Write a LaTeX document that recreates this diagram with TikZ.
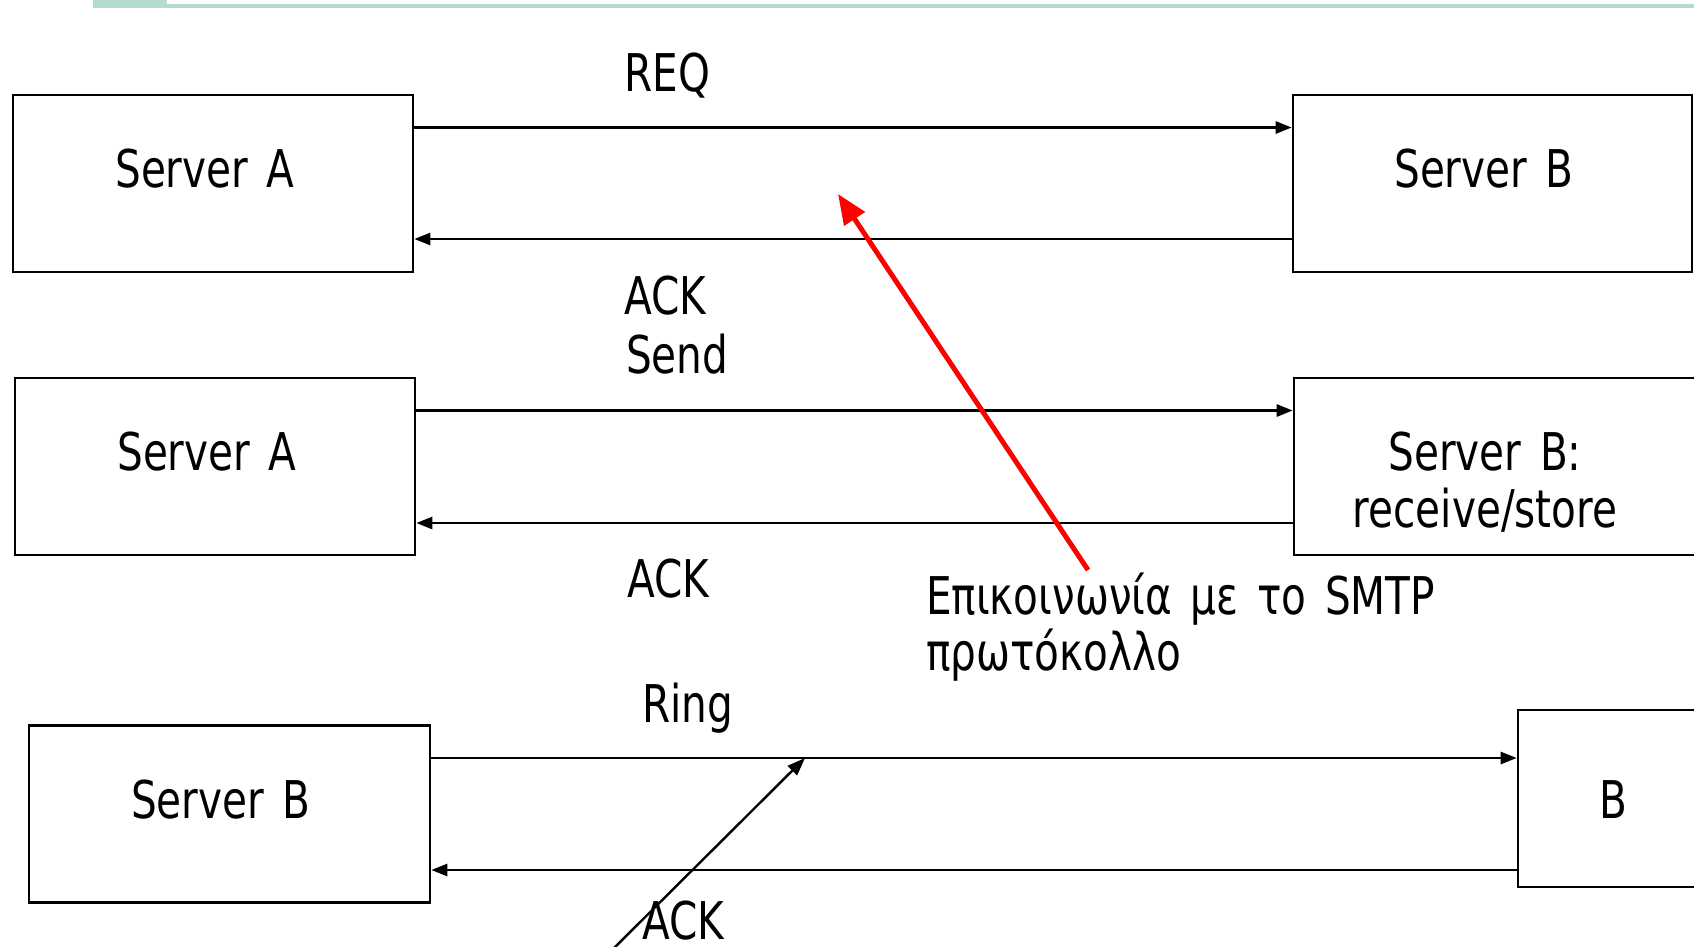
\documentclass[tikz,border=0pt]{standalone}
\usepackage{fontspec}
\setmainfont{DejaVu Sans}[FakeStretch=0.78,WordSpace=1.45]
\usetikzlibrary{arrows.meta}
\definecolor{barteal}{HTML}{B3DBCF}
\tikzset{
  box/.style={draw=black, line width=2.6pt, rectangle, inner sep=0pt},
  lbl/.style={inner sep=0pt, font=\fontsize{52}{57}\selectfont},
  msg/.style={line width=2.6pt, -{Triangle[length=16pt,width=12pt]}},
  pointer/.style={line width=5pt, red, -{Triangle[length=30pt,width=24pt]}},
  thinptr/.style={line width=2.4pt, -{Triangle[length=18pt,width=13pt]}}
}
\begin{document}
\begin{tikzpicture}[x=1pt,y=-1pt]
\useasboundingbox (0,0) rectangle (1694,946);
\clip (0,0) rectangle (1694,946);
% top bar
\fill[barteal] (93,4) rectangle (1700,8);
\fill[barteal] (93,0) rectangle (167,8);
% boxes
\node[box, minimum width=400pt, minimum height=177pt] (a1) at (213,183.5) {};
\node[box, minimum width=399pt, minimum height=177pt] (b1) at (1492.5,183.5) {};
\node[box, minimum width=400pt, minimum height=177pt] (a2) at (215,466.5) {};
\node[box, minimum width=420pt, minimum height=177pt] (b2) at (1504,466.5) {};
\node[box, minimum width=401pt, minimum height=177pt] (s3) at (229.5,814) {};
\node[box, minimum width=200pt, minimum height=177pt] (b3) at (1618,798.5) {};
% box texts
\node[lbl, anchor=base] (ta1) at (205,187) {Server A};
\node[lbl, anchor=base] (tb1) at (1484,187) {Server B};
\node[lbl, anchor=base] (ta2) at (207,470) {Server A};
\node[lbl, anchor=base] (tb2) at (1485,470) {Server B:};
\node[lbl, anchor=base] (tb2b) at (1485,527) {receive/store};
\node[lbl, anchor=base] (ts3) at (221,818) {Server B};
\node[lbl, anchor=base] (tb3) at (1613,818) {B};
% message labels
\node[lbl, anchor=base west] (req) at (624,91) {REQ};
\node[lbl, anchor=base west] (ack1) at (624,314) {ACK};
\node[lbl, anchor=base west] (send) at (626,373) {Send};
\node[lbl, anchor=base west] (ack2) at (627,597) {ACK};
\node[lbl, anchor=base west] (ring) at (642,722) {Ring};
\node[lbl, anchor=base west] (ack3) at (642,939) {ACK};
\node[lbl, anchor=base west] (gr1) at (926,614) {Επικοινωνία με το SMTP};
\node[lbl, anchor=base west] (gr2) at (926,670) {πρωτόκολλο};
% messages
\draw[msg] ([yshift=56pt]a1.east) -- ([yshift=56pt]a1.east -| b1.west);
\draw[msg] ([yshift=-55.5pt]b1.west) -- ([yshift=-55.5pt]b1.west -| a1.east);
\draw[msg] ([yshift=56pt]a2.east) -- ([yshift=56pt]a2.east -| b2.west);
\draw[msg] ([yshift=-56.5pt]b2.west) -- ([yshift=-56.5pt]b2.west -| a2.east);
\draw[msg] ([yshift=56pt]s3.east) -- ([yshift=56pt]s3.east -| b3.west);
\draw[msg] ([yshift=-56pt]s3.east -| b3.west) -- ([yshift=-56pt]s3.east);
% pointers
\coordinate (redtail) at (1088,570);
\coordinate (redtip) at (838,194);
\draw[pointer] (redtail) -- (redtip);
\coordinate (blktail) at (606,956);
\coordinate (blktip) at (805,758);
\draw[thinptr] (blktail) -- (blktip);
\end{tikzpicture}
\end{document}
